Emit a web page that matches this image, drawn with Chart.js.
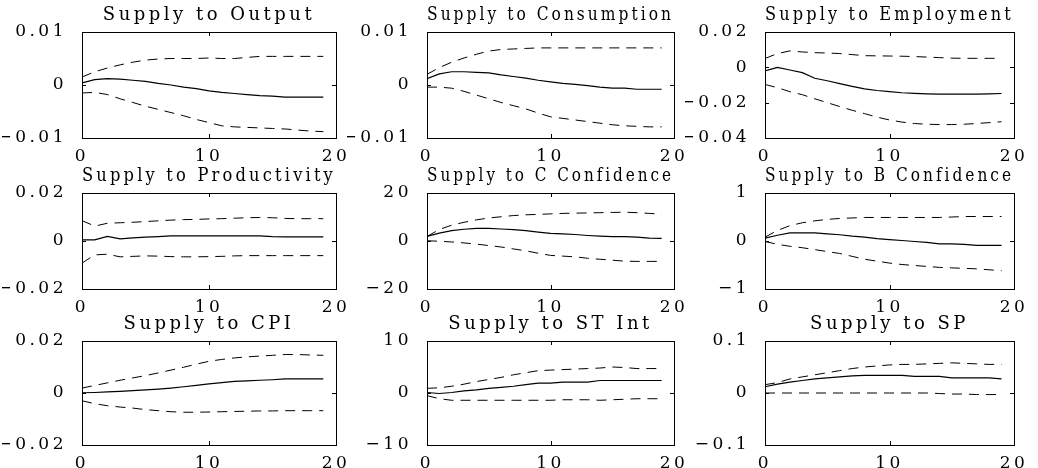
<!DOCTYPE html>
<html>
<head>
<meta charset="utf-8">
<script src="https://cdn.jsdelivr.net/npm/chart.js@4.4.0/dist/chart.umd.min.js"></script>
<style>
  body { margin: 0; background: #fff; overflow: hidden; }
  #wrap { position: relative; width: 1038px; height: 468px; }
  canvas { position: absolute; }
</style>
</head>
<body>
<div id="wrap"></div>
<script>
// horizon (periods) and axis ticks
const steps = [0, 1, 2, 3, 4, 5, 6, 7, 8, 9, 10, 11, 12, 13, 14, 15, 16, 17, 18, 19];
const xTicks = [0, 10, 20];

const titles = [
  'Supply to Output', 'Supply to Consumption', 'Supply to Employment',
  'Supply to Productivity', 'Supply to C Confidence', 'Supply to B Confidence',
  'Supply to CPI', 'Supply to ST Int', 'Supply to SP'
];

// Output
const lower1 = [-0.0015, -0.0014, -0.0018, -0.0026, -0.0033, -0.0040, -0.0046, -0.0052, -0.0058, -0.0065, -0.0071, -0.0077, -0.0079, -0.0080, -0.0081, -0.0082, -0.0083, -0.0085, -0.0087, -0.0088];
const mid1 = [0.0004, 0.0010, 0.0012, 0.0011, 0.0009, 0.0007, 0.0003, 0.0000, -0.0004, -0.0007, -0.0011, -0.0014, -0.0016, -0.0018, -0.0020, -0.0021, -0.0023, -0.0023, -0.0023, -0.0023];
const upper1 = [0.0015, 0.0025, 0.0032, 0.0038, 0.0043, 0.0047, 0.0049, 0.0050, 0.0050, 0.0050, 0.0051, 0.0050, 0.0050, 0.0052, 0.0054, 0.0054, 0.0054, 0.0054, 0.0054, 0.0054];
const yTicks1 = [-0.01, 0, 0.01];

// Consumption
const lower2 = [-0.0004, -0.0004, -0.0006, -0.0012, -0.0019, -0.0026, -0.0033, -0.0039, -0.0045, -0.0053, -0.0060, -0.0063, -0.0066, -0.0069, -0.0072, -0.0075, -0.0077, -0.0078, -0.0079, -0.0079];
const mid2 = [0.0012, 0.0021, 0.0025, 0.0025, 0.0024, 0.0023, 0.0019, 0.0016, 0.0013, 0.0009, 0.0006, 0.0003, 0.0001, -0.0001, -0.0004, -0.0006, -0.0006, -0.0008, -0.0008, -0.0008];
const upper2 = [0.0020, 0.0033, 0.0043, 0.0051, 0.0058, 0.0064, 0.0067, 0.0068, 0.0069, 0.0070, 0.0070, 0.0070, 0.0070, 0.0070, 0.0070, 0.0070, 0.0070, 0.0070, 0.0070, 0.0070];
const yTicks2 = [-0.01, 0, 0.01];

// Employment
const lower3 = [-0.0097, -0.0115, -0.0138, -0.0155, -0.0178, -0.0200, -0.0222, -0.0243, -0.0262, -0.0282, -0.0298, -0.0310, -0.0318, -0.0322, -0.0324, -0.0324, -0.0322, -0.0318, -0.0313, -0.0308];
const mid3 = [-0.0020, 0.0000, -0.0015, -0.0030, -0.0062, -0.0076, -0.0092, -0.0108, -0.0122, -0.0131, -0.0138, -0.0144, -0.0147, -0.0150, -0.0152, -0.0152, -0.0152, -0.0152, -0.0150, -0.0148];
const upper3 = [0.0050, 0.0078, 0.0093, 0.0087, 0.0083, 0.0081, 0.0078, 0.0072, 0.0066, 0.0065, 0.0064, 0.0063, 0.0061, 0.0058, 0.0055, 0.0052, 0.0051, 0.0051, 0.0051, 0.0051];
const yTicks3 = [-0.04, -0.02, 0, 0.02];

// Productivity
const lower4 = [-0.0092, -0.0058, -0.0055, -0.0066, -0.0064, -0.0062, -0.0063, -0.0065, -0.0066, -0.0066, -0.0065, -0.0064, -0.0062, -0.0061, -0.0061, -0.0061, -0.0061, -0.0061, -0.0061, -0.0061];
const mid4 = [0.0005, 0.0005, 0.0019, 0.0009, 0.0013, 0.0016, 0.0018, 0.0021, 0.0021, 0.0021, 0.0021, 0.0021, 0.0021, 0.0021, 0.0021, 0.0018, 0.0017, 0.0017, 0.0017, 0.0017];
const upper4 = [0.0085, 0.0062, 0.0074, 0.0076, 0.0078, 0.0081, 0.0084, 0.0087, 0.0089, 0.0090, 0.0092, 0.0093, 0.0095, 0.0097, 0.0098, 0.0097, 0.0094, 0.0093, 0.0093, 0.0093];
const yTicks4 = [-0.02, 0, 0.02];

// C Confidence
const lower5 = [0.1, -0.1, -0.4, -0.8, -1.3, -1.9, -2.5, -3.3, -4.1, -5.1, -6.0, -6.3, -6.6, -7.2, -7.6, -8.0, -8.4, -8.5, -8.5, -8.5];
const mid5 = [1.9, 3.3, 4.3, 4.9, 5.3, 5.3, 5.0, 4.7, 4.3, 3.7, 3.2, 3.0, 2.7, 2.3, 2.0, 1.8, 1.8, 1.6, 1.2, 1.1];
const upper5 = [1.9, 4.8, 6.6, 7.8, 8.8, 9.6, 10.1, 10.6, 10.9, 11.1, 11.3, 11.5, 11.6, 11.7, 11.8, 11.9, 12.0, 11.8, 11.5, 11.2];
const yTicks5 = [-20, 0, 20];

// B Confidence
const lower6 = [-0.01, -0.07, -0.11, -0.14, -0.18, -0.22, -0.26, -0.32, -0.38, -0.42, -0.46, -0.49, -0.51, -0.53, -0.55, -0.56, -0.57, -0.58, -0.60, -0.62];
const mid6 = [0.06, 0.12, 0.17, 0.17, 0.17, 0.15, 0.13, 0.10, 0.08, 0.05, 0.03, 0.01, -0.01, -0.03, -0.06, -0.06, -0.07, -0.09, -0.09, -0.09];
const upper6 = [0.08, 0.22, 0.32, 0.38, 0.42, 0.45, 0.47, 0.48, 0.49, 0.49, 0.49, 0.49, 0.49, 0.49, 0.49, 0.50, 0.51, 0.51, 0.51, 0.51];
const yTicks6 = [-1, 0, 1];

// CPI
const lower7 = [-0.0030, -0.0041, -0.0049, -0.0054, -0.0058, -0.0064, -0.0068, -0.0072, -0.0074, -0.0074, -0.0073, -0.0072, -0.0071, -0.0070, -0.0069, -0.0069, -0.0068, -0.0068, -0.0068, -0.0068];
const mid7 = [0.0001, 0.0002, 0.0004, 0.0006, 0.0009, 0.0012, 0.0015, 0.0019, 0.0024, 0.0029, 0.0035, 0.0040, 0.0045, 0.0047, 0.0049, 0.0051, 0.0054, 0.0054, 0.0054, 0.0054];
const upper7 = [0.0019, 0.0029, 0.0039, 0.0049, 0.0058, 0.0067, 0.0077, 0.0088, 0.0099, 0.0111, 0.0122, 0.0129, 0.0135, 0.0139, 0.0142, 0.0145, 0.0148, 0.0148, 0.0146, 0.0145];
const yTicks7 = [-0.02, 0, 0.02];

// ST Int
const lower8 = [-0.5, -1.1, -1.4, -1.4, -1.4, -1.4, -1.4, -1.4, -1.4, -1.4, -1.4, -1.3, -1.3, -1.3, -1.4, -1.3, -1.2, -1.1, -1.1, -1.1];
const mid8 = [0.1, -0.1, 0.1, 0.4, 0.6, 0.9, 1.1, 1.3, 1.6, 1.9, 1.9, 2.1, 2.1, 2.1, 2.4, 2.4, 2.4, 2.4, 2.4, 2.4];
const upper8 = [0.9, 1.0, 1.3, 1.7, 2.2, 2.6, 3.0, 3.5, 3.9, 4.3, 4.4, 4.5, 4.6, 4.7, 4.8, 5.0, 4.9, 4.7, 4.7, 4.7];
const yTicks8 = [-10, 0, 10];

// SP
const lower9 = [0.000, 0.000, 0.000, 0.000, 0.000, 0.000, 0.000, 0.000, 0.000, 0.000, 0.000, 0.000, 0.000, 0.000, -0.001, -0.002, -0.002, -0.003, -0.003, -0.003];
const mid9 = [0.012, 0.017, 0.021, 0.024, 0.027, 0.029, 0.031, 0.033, 0.034, 0.034, 0.034, 0.034, 0.032, 0.032, 0.032, 0.029, 0.029, 0.029, 0.029, 0.027];
const upper9 = [0.016, 0.020, 0.027, 0.031, 0.035, 0.039, 0.043, 0.047, 0.050, 0.052, 0.054, 0.055, 0.055, 0.056, 0.057, 0.058, 0.057, 0.056, 0.055, 0.055];
const yTicks9 = [-0.1, 0, 0.1];

// plot box edges (page px) for the 3x3 grid
const colLeft = [82, 427, 765];
const colRight = [336, 674, 1014];
const rowTop = [32, 193, 341];
const rowBottom = [138, 289, 445];

const FONT = 'DejaVu Serif';
const AXIS_W = 80, TITLE_H = 34, XAXIS_H = 26, PAD_R = 30;

// old matlab print looks stretched sideways, widen text a bit
const spacing = {
  id: 'spacing',
  beforeLayout(chart) { chart.ctx.letterSpacing = '3.5px'; },
  beforeDraw(chart) { chart.ctx.letterSpacing = '3.5px'; }
};

// box around the axes + inward tick marks
const boxTicks = {
  id: 'boxTicks',
  afterDraw(chart) {
    const ctx = chart.ctx;
    const a = chart.chartArea;
    const xs = chart.scales.x, ys = chart.scales.y;
    ctx.save();
    ctx.strokeStyle = '#000';
    ctx.lineWidth = 1;
    ctx.strokeRect(Math.round(a.left) + 0.5, Math.round(a.top) + 0.5,
      Math.round(a.right - a.left), Math.round(a.bottom - a.top));
    ctx.beginPath();
    xs.ticks.forEach(function (t) {
      const px = Math.round(xs.getPixelForValue(t.value)) + 0.5;
      ctx.moveTo(px, a.bottom); ctx.lineTo(px, a.bottom - 4);
      ctx.moveTo(px, a.top); ctx.lineTo(px, a.top + 4);
    });
    ys.ticks.forEach(function (t) {
      const py = Math.round(ys.getPixelForValue(t.value)) + 0.5;
      ctx.moveTo(a.left, py); ctx.lineTo(a.left + 4, py);
      ctx.moveTo(a.right, py); ctx.lineTo(a.right - 4, py);
    });
    ctx.stroke();
    ctx.restore();
  }
};

function fmt(v) {
  return v < 0 ? '\u2212' + String(-v) : String(v);
}

function makePanel(i, title, lower, mid, upper, yTicks) {
  const col = i % 3, row = Math.floor(i / 3);
  const L = colLeft[col], R = colRight[col], T = rowTop[row], B = rowBottom[row];
  const canvas = document.createElement('canvas');
  canvas.width = (R - L) + AXIS_W + PAD_R;
  canvas.height = (B - T) + TITLE_H + XAXIS_H;
  canvas.style.left = (L - AXIS_W) + 'px';
  canvas.style.top = (T - TITLE_H) + 'px';
  document.getElementById('wrap').appendChild(canvas);

  const lineData = {
    labels: steps,
    datasets: [
      { data: upper, borderColor: '#000', borderWidth: 1, borderDash: [10, 7], pointRadius: 0, tension: 0 },
      { data: mid, borderColor: '#000', borderWidth: 1.2, pointRadius: 0, tension: 0 },
      { data: lower, borderColor: '#000', borderWidth: 1, borderDash: [10, 7], pointRadius: 0, tension: 0 }
    ]
  };

  return new Chart(canvas, {
    type: 'line',
    data: lineData,
    plugins: [spacing, boxTicks],
    options: {
      responsive: false,
      animation: false,
      layout: { padding: { left: 0, right: PAD_R, top: 0, bottom: 0 } },
      plugins: {
        legend: { display: false },
        tooltip: { enabled: false },
        title: {
          display: true,
          text: title,
          fullSize: false,
          color: '#000',
          font: { family: FONT, size: 18, weight: 'normal' },
          padding: { top: 7, bottom: 5.4 }
        }
      },
      scales: {
        x: {
          type: 'linear',
          min: 0, max: 20,
          grid: { display: false },
          border: { display: false },
          afterBuildTicks: function (s) { s.ticks = xTicks.map(function (v) { return { value: v }; }); },
          afterFit: function (s) { s.height = XAXIS_H; },
          ticks: {
            autoSkip: false, maxRotation: 0, padding: 0, color: '#000',
            font: { family: FONT, size: 17 },
            callback: function (v) { return fmt(v); }
          }
        },
        y: {
          min: yTicks[0], max: yTicks[yTicks.length - 1],
          grid: { display: false },
          border: { display: false },
          afterBuildTicks: function (s) { s.ticks = yTicks.map(function (v) { return { value: v }; }); },
          afterFit: function (s) { s.width = AXIS_W; },
          ticks: {
            autoSkip: false, padding: 7, color: '#000',
            font: { family: FONT, size: 17 },
            callback: function (v) { return fmt(v); }
          }
        }
      }
    }
  });
}

makePanel(0, titles[0], lower1, mid1, upper1, yTicks1);
makePanel(1, titles[1], lower2, mid2, upper2, yTicks2);
makePanel(2, titles[2], lower3, mid3, upper3, yTicks3);
makePanel(3, titles[3], lower4, mid4, upper4, yTicks4);
makePanel(4, titles[4], lower5, mid5, upper5, yTicks5);
makePanel(5, titles[5], lower6, mid6, upper6, yTicks6);
makePanel(6, titles[6], lower7, mid7, upper7, yTicks7);
makePanel(7, titles[7], lower8, mid8, upper8, yTicks8);
makePanel(8, titles[8], lower9, mid9, upper9, yTicks9);
</script>
</body>
</html>
